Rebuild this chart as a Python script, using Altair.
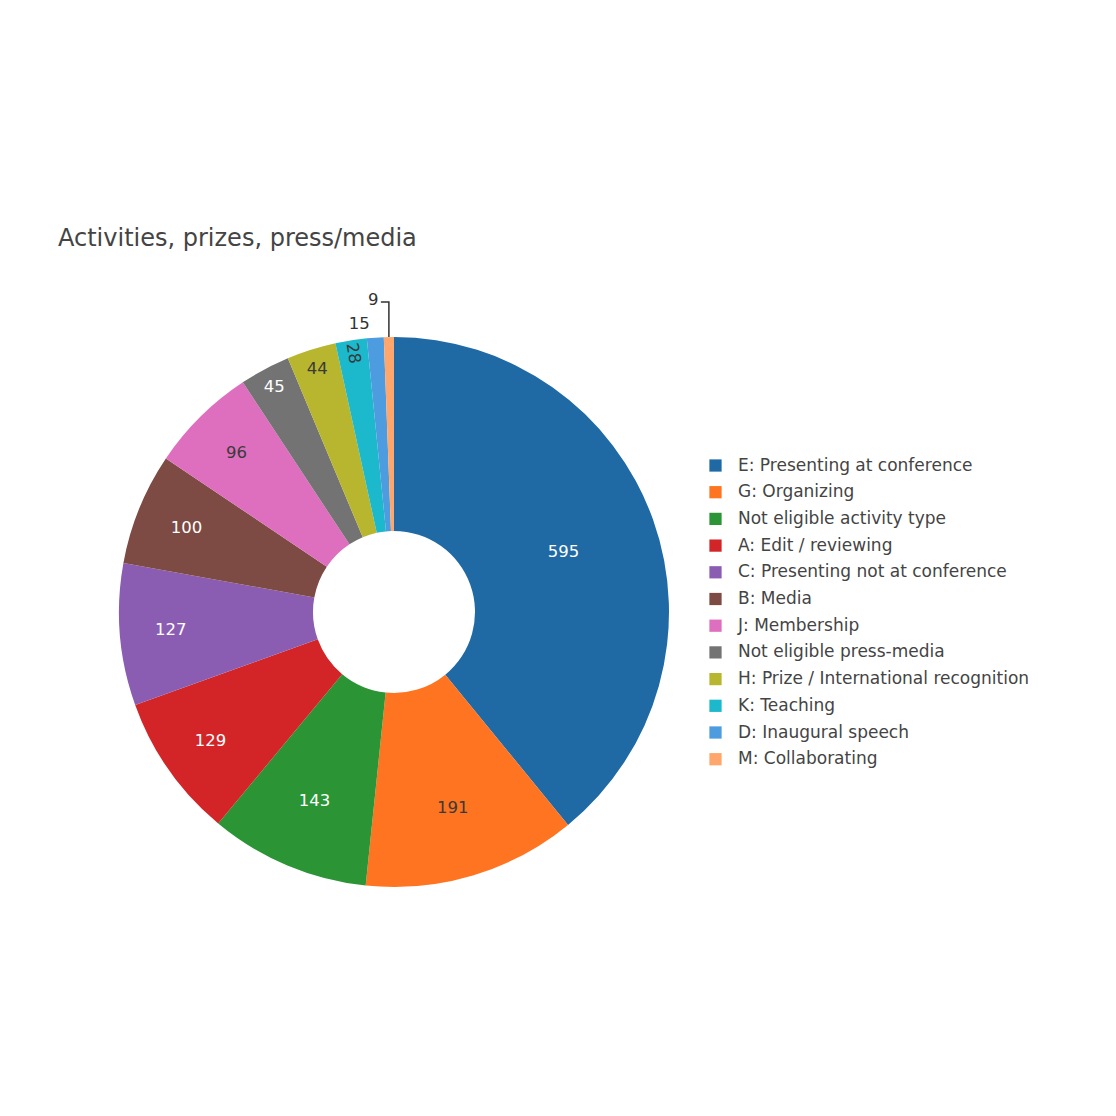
import altair as alt
import pandas as pd
import numpy as np

# ---------------- data ----------------
categories = [
    "E: Presenting at conference",
    "G: Organizing",
    "Not eligible activity type",
    "A: Edit / reviewing",
    "C: Presenting not at conference",
    "B: Media",
    "J: Membership",
    "Not eligible press-media",
    "H: Prize / International recognition",
    "K: Teaching",
    "D: Inaugural speech",
    "M: Collaborating",
]
values = [595, 191, 143, 129, 127, 100, 96, 45, 44, 28, 15, 9]
title_text = "Activities, prizes, press/media"

# ---------------- style ----------------
colors = ["#1f6aa5", "#fe7420", "#2b9535", "#d32528", "#8b5db2", "#7d4b43",
          "#de6fbf", "#737373", "#b8b62f", "#1bb9cb", "#4d9cdf", "#ffa66c"]
text_tone = ["light", "dark", "light", "light", "light", "light",
             "dark", "light", "dark", "dark", "dark", "dark"]
FONT = "DejaVu Sans"
W, H = 1085, 1040
CX, CY = 381, 599
R_OUT, R_IN = 275, 81

# ---------------- derived table ----------------
vals = np.array(values, dtype=float)
total = float(vals.sum())
start = np.cumsum(vals) - vals
mid_deg = (start + vals / 2) / total * 360.0

inside = vals >= 25
def label_radius(v, ins):
    if not ins:
        return 289 if v >= 12 else 312
    if v >= 300:
        return 180
    if v >= 140:
        return 205
    if v >= 90:
        return 224
    if v >= 40:
        return 255
    return 262

df = pd.DataFrame({
    "category": categories,
    "value": values,
    "order": list(range(len(values))),
    "in_label": [str(v) if i else "" for v, i in zip(values, inside)],
    "out_label": [str(v) if not i else "" for v, i in zip(values, inside)],
    "label_r": [label_radius(v, i) for v, i in zip(vals, inside)],
    "angle": [(m - 270) if (i and v < 30) else 0 for m, v, i in zip(mid_deg, vals, inside)],
    "tone": text_tone,
})

# leader line for the smallest slice
a = np.deg2rad(mid_deg[-1])
x0 = CX + R_OUT * np.sin(a)
y0 = CY - R_OUT * np.cos(a)
leader = pd.DataFrame({
    "x": [x0, x0, x0 - 8],
    "y": [y0, CY - 310, CY - 310],
    "o": [0, 1, 2],
})

theta_scale = alt.Scale(domain=[0, total])

base = alt.Chart(df)

arcs = base.mark_arc(radius=R_OUT, radius2=R_IN, strokeWidth=0).encode(
    theta=alt.Theta("value:Q", stack=True, scale=theta_scale),
    order=alt.Order("order:Q", sort="ascending"),
    color=alt.Color(
        "category:N",
        scale=alt.Scale(domain=categories, range=colors),
        sort=categories,
        legend=alt.Legend(
            title=None,
            orient="none",
            legendX=694,
            legendY=444,
            symbolType="square",
            symbolSize=150,
            symbolStrokeWidth=0,
            labelFont=FONT,
            labelFontSize=17,
            labelColor="#444444",
            labelOffset=14,
            rowPadding=8.7,
            labelLimit=400,
            padding=0,
        ),
    ),
    x=alt.value(CX),
    y=alt.value(CY),
)

mid_base = base.transform_window(
    cum="sum(value)", sort=[alt.SortField("order", order="ascending")], frame=[None, 0]
).transform_calculate(mid="datum.cum - datum.value / 2")

in_text = mid_base.mark_text(font=FONT, fontSize=16.5, align="center", baseline="middle").encode(
    theta=alt.Theta("mid:Q", stack=None, scale=theta_scale),
    radius=alt.Radius("label_r:Q", scale=None),
    text="in_label:N",
    angle=alt.Angle("angle:Q", scale=None),
    color=alt.condition("datum.tone == 'light'", alt.value("#ffffff"), alt.value("#3a3a3a")),
    x=alt.value(CX),
    y=alt.value(CY),
)

out_text = mid_base.mark_text(font=FONT, fontSize=16.5, align="center", baseline="middle",
                              dx=-15, color="#333333").encode(
    theta=alt.Theta("mid:Q", stack=None, scale=theta_scale),
    radius=alt.Radius("label_r:Q", scale=None),
    text="out_label:N",
    x=alt.value(CX),
    y=alt.value(CY),
)

line = alt.Chart(leader).mark_line(color="#333333", strokeWidth=1.5).encode(
    x=alt.X("x:Q", scale=None, axis=None),
    y=alt.Y("y:Q", scale=None, axis=None),
    order="o:Q",
)

chart = alt.layer(arcs, in_text, out_text, line).resolve_scale(
    color="independent"
).properties(
    width=W,
    height=H,
    title=alt.Title(
        title_text,
        anchor="start",
        font=FONT,
        fontSize=24,
        fontWeight="normal",
        color="#444444",
        dx=45,
        dy=242,
    ),
).configure_view(stroke=None)

chart.save("out.html", embed_options={"renderer": "svg", "actions": False})
